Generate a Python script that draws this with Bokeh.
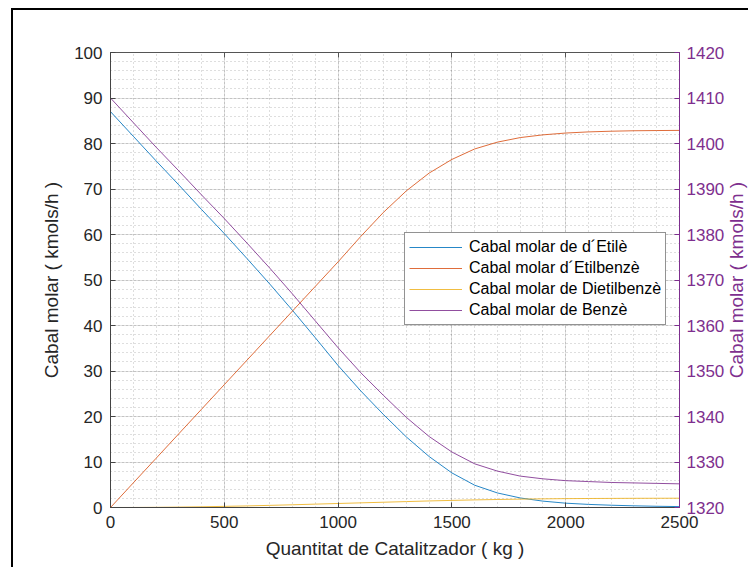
import math
from bokeh.plotting import figure
from bokeh.models import (Range1d, LinearAxis, SingleIntervalTicker, Label,
                          Legend, LegendItem, ColumnDataSource)
from bokeh.embed import file_html
from bokeh.resources import INLINE

# ---------------- data ----------------
kg = [0, 100, 200, 300, 400, 500, 600, 700, 800, 900, 1000, 1100, 1200,
      1300, 1400, 1500, 1600, 1700, 1800, 1900, 2000, 2100, 2200, 2300,
      2400, 2500]
etile = [87.0, 81.6, 76.2, 70.9, 65.5, 60.2, 54.7, 49.1, 43.3, 37.3, 31.2,
         25.6, 20.4, 15.5, 11.2, 7.6, 4.9, 3.2, 2.1, 1.4, 0.95, 0.68, 0.5,
         0.37, 0.27, 0.2]
etilbenze = [0.0, 5.4, 10.8, 16.2, 21.6, 27.0, 32.4, 37.8, 43.2, 48.6, 54.0,
             59.6, 64.9, 69.6, 73.5, 76.5, 78.8, 80.3, 81.3, 81.9, 82.3,
             82.55, 82.7, 82.8, 82.85, 82.88]
dietilbenze = [0.0, 0.01, 0.04, 0.09, 0.16, 0.25, 0.35, 0.47, 0.6, 0.74,
               0.88, 1.02, 1.16, 1.3, 1.44, 1.56, 1.67, 1.76, 1.84, 1.9,
               1.95, 1.98, 2.0, 2.02, 2.03, 2.04]
benze = [1410.0, 1404.6, 1399.2, 1394.0, 1388.7, 1383.5, 1378.1, 1372.6,
         1366.9, 1361.0, 1355.1, 1349.6, 1344.6, 1339.8, 1335.6, 1332.2,
         1329.6, 1328.0, 1326.9, 1326.3, 1325.9, 1325.7, 1325.5, 1325.4,
         1325.3, 1325.2]

labels = ["Cabal molar de d\u00b4Etil\u00e8", "Cabal molar d\u00b4Etilbenz\u00e8",
          "Cabal molar de Dietilbenz\u00e8", "Cabal molar de Benz\u00e8"]
colors = ["#0072BD", "#D95319", "#EDB120", "#7E2F8E"]

x_label = "Quantitat de Catalitzador ( kg )"
y_label = "Cabal molar ( kmols/h )"

FONT = "Liberation Sans"
DARK = "#262626"
PURPLE = "#7E2F8E"

# ---------------- figure ----------------
p = figure(width=748, height=567, output_backend="svg", toolbar_location=None,
           x_range=Range1d(0, 2500), y_range=Range1d(0, 100),
           min_border_left=110, min_border_right=68, min_border_top=52,
           min_border_bottom=60, background_fill_color="white",
           border_fill_alpha=0)
# black frame of the picture (drawn as page background behind the canvas)
p.styles = {
    "background": ("linear-gradient(#000,#000) 11px 8px / 2px 700px no-repeat, "
                   "linear-gradient(#000,#000) 11px 8px / 900px 2px no-repeat, "
                   "#ffffff")
}
p.extra_y_ranges = {"benze": Range1d(1320, 1420)}
p.outline_line_color = "#555555"
p.outline_line_width = 1

src = ColumnDataSource(dict(kg=kg, e=etile, eb=etilbenze, deb=dietilbenze, b=benze))
LA = 0.85
r1 = p.line("kg", "e", source=src, line_color=colors[0], line_width=1, line_alpha=LA)
r2 = p.line("kg", "eb", source=src, line_color=colors[1], line_width=1, line_alpha=LA)
r3 = p.line("kg", "deb", source=src, line_color=colors[2], line_width=1, line_alpha=LA)
r4 = p.line("kg", "b", source=src, line_color=colors[3], line_width=1, line_alpha=LA,
            y_range_name="benze")

xt = SingleIntervalTicker(interval=500, num_minor_ticks=5)
yt = SingleIntervalTicker(interval=10, num_minor_ticks=5)

def style_axis(ax, color, label_size="17px"):
    ax.axis_line_color = color
    ax.axis_line_width = 1
    ax.major_tick_line_color = color
    ax.major_tick_in = 5
    ax.major_tick_out = 0
    ax.minor_tick_in = 0
    ax.minor_tick_out = 0
    ax.major_label_text_font = FONT
    ax.major_label_text_font_size = label_size
    ax.major_label_text_color = color
    ax.axis_label_text_font = FONT
    ax.axis_label_text_font_size = "19px"
    ax.axis_label_text_font_style = "normal"
    ax.axis_label_text_color = color

xa = p.xaxis[0]
xa.ticker = xt
style_axis(xa, "#444444")
xa.major_label_text_color = DARK
xa.axis_label_text_color = DARK
xa.axis_label = x_label
xa.major_label_standoff = 8
xa.axis_label_standoff = 7

ya = p.yaxis[0]
ya.ticker = yt
style_axis(ya, "#444444")
ya.major_label_text_color = DARK
ya.axis_label_text_color = DARK
ya.axis_label = y_label
ya.major_label_standoff = 8
ya.axis_label_standoff = 9

top = LinearAxis(ticker=SingleIntervalTicker(interval=500))
style_axis(top, "#555555", label_size="0px")
top.major_label_text_alpha = 0
p.add_layout(top, "above")

right = LinearAxis(y_range_name="benze",
                   ticker=SingleIntervalTicker(interval=10))
style_axis(right, PURPLE)
right.major_label_standoff = 7
p.add_layout(right, "right")

# right axis title, reading bottom to top, in its own slot of the right panel
rlabel = Label(x=9, y=1370, x_units="screen", y_units="data",
               y_range_name="benze", text=y_label, angle=math.pi / 2,
               text_align="center", text_baseline="middle", text_font=FONT,
               text_font_size="19px", text_color=PURPLE)
p.add_layout(rlabel, "right")

# grids
for g in (p.xgrid[0], p.ygrid[0]):
    g.grid_line_color = DARK
    g.grid_line_alpha = 0.15
    g.minor_grid_line_color = DARK
    g.minor_grid_line_alpha = 0.3
    g.minor_grid_line_dash = "1 3"
p.xgrid[0].ticker = xt
p.ygrid[0].ticker = yt

# legend
legend = Legend(items=[LegendItem(label=labels[i], renderers=[r])
                       for i, r in enumerate([r1, r2, r3, r4])],
                location=(294, 182))
legend.label_text_font = FONT
legend.label_text_font_size = "16px"
legend.label_text_color = "#000000"
legend.glyph_width = 53
legend.glyph_height = 20
legend.label_height = 20
legend.label_standoff = 7
legend.spacing = 1
legend.padding = 4
legend.margin = 0
legend.border_line_color = DARK
legend.border_line_width = 1
legend.background_fill_color = "white"
legend.background_fill_alpha = 1
p.add_layout(legend, "center")

open("out.html", "w").write(file_html(p, INLINE))
